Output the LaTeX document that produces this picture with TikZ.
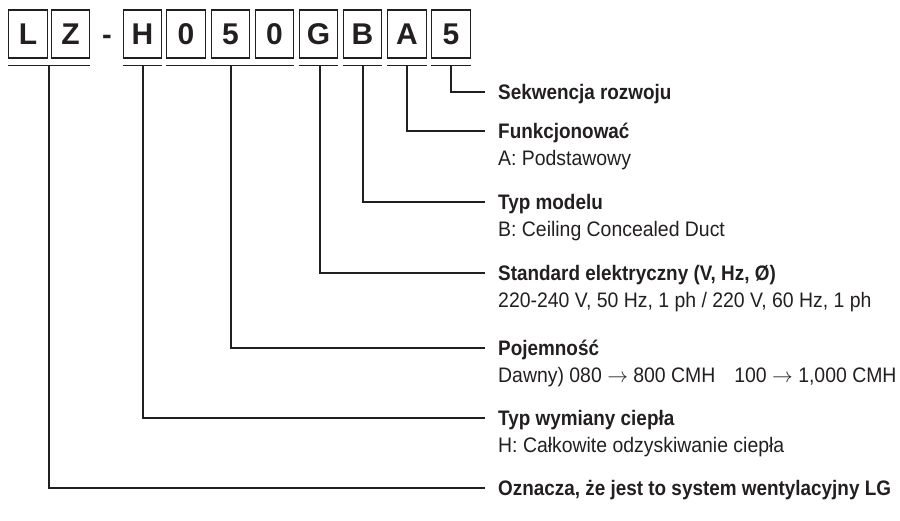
\documentclass[tikz,border=0pt]{standalone}
\usepackage{fontspec}
\setmainfont{Liberation Sans}[FakeStretch=0.925]
\newfontfamily\hdfont{Liberation Sans}[FakeStretch=0.9]
\newfontfamily\boxfont{Liberation Sans}
\definecolor{ink}{RGB}{35,31,32}
\newcommand{\rarr}{{\fontsize{21}{21}\selectfont$\rightarrow$}}
\begin{document}
\begin{tikzpicture}[x=1pt,y=-1pt,
  charbox/.style={draw=ink, line width=1.4pt, minimum width=38.5pt, minimum height=48pt, inner sep=0pt, font=\boxfont\fontsize{30}{30}\selectfont\bfseries, text=ink},
  dashmark/.style={inner sep=0pt, anchor=base, font=\boxfont\fontsize{29}{29}\selectfont\bfseries, text=ink},
  link/.style={draw=ink, line width=1.5pt},
  head/.style={anchor=base west, inner sep=0pt, font=\hdfont\fontsize{21}{25}\selectfont\bfseries, text=ink},
  sub/.style={anchor=base west, inner sep=0pt, font=\fontsize{21}{25}\selectfont, text=ink}]
\useasboundingbox (0,0) rectangle (900,520);
% character boxes
\node[charbox] (bL) at (28,34) {L};
\node[charbox] (bZ) at (70.5,34) {Z};
\node[dashmark] (dsh) at (107,44) {-};
\node[charbox] (bH) at (142.5,34) {H};
\node[charbox] (b0a) at (186,34) {0};
\node[charbox] (b5a) at (230.5,34) {5};
\node[charbox] (b0b) at (274.5,34) {0};
\node[charbox] (bG) at (318.5,34) {G};
\node[charbox] (bB) at (362.5,34) {B};
\node[charbox] (bA) at (407,34) {A};
\node[charbox] (b5b) at (451,34) {5};
% underlines
\draw[link] ([yshift=-7pt]bL.south west) -- ([yshift=-7pt]bZ.south east);
\draw[link] ([yshift=-7pt]bH.south west) -- ([yshift=-7pt]bH.south east);
\draw[link] ([yshift=-7pt]b0a.south west) -- ([yshift=-7pt]b0b.south east);
\draw[link] ([yshift=-7pt]bG.south west) -- ([yshift=-7pt]bG.south east);
\draw[link] ([yshift=-7pt]bB.south west) -- ([yshift=-7pt]bB.south east);
\draw[link] ([yshift=-7pt]bA.south west) -- ([yshift=-7pt]bA.south east);
\draw[link] ([yshift=-7pt]b5b.south west) -- ([yshift=-7pt]b5b.south east);
% start points on the underlines
\coordinate (uLZ) at (49,65);
\coordinate (uH) at (143,65);
\coordinate (uCap) at (231,65);
\coordinate (uG) at (320,65);
\coordinate (uB) at (363,65);
\coordinate (uA) at (407,65);
\coordinate (u5) at (451,65);
% end points
\coordinate (e5) at (485,92);
\coordinate (eA) at (485,131);
\coordinate (eB) at (485,202);
\coordinate (eG) at (485,273);
\coordinate (eCap) at (485,348);
\coordinate (eH) at (485,418);
\coordinate (eLZ) at (485,488);
% connectors
\draw[link] (u5) |- (e5);
\draw[link] (uA) |- (eA);
\draw[link] (uB) |- (eB);
\draw[link] (uG) |- (eG);
\draw[link] (uCap) |- (eCap);
\draw[link] (uH) |- (eH);
\draw[link] (uLZ) |- (eLZ);
% texts
\node[head] (t5) at (498,99.5) {Sekwencja rozwoju};
\node[head] (tA) at (498,138.5) {Funkcjonować};
\node[sub] (sA) at (498,165.5) {A: Podstawowy};
\node[head] (tB) at (498,209.5) {Typ modelu};
\node[sub] (sB) at (498,236.5) {B: Ceiling Concealed Duct};
\node[head] (tG) at (498,280.5) {Standard elektryczny (V, Hz, Ø)};
\node[sub] (sG) at (498,307.5) {220-240 V, 50 Hz, 1 ph / 220 V, 60 Hz, 1 ph};
\node[head] (tCap) at (498,355.5) {Pojemność};
\node[sub] (sCap) at (498,382.5) {Dawny) 080 \rarr{} 800 CMH\hspace{0.9em}100 \rarr{} 1,000 CMH};
\node[head] (tH) at (498,425.5) {Typ wymiany ciepła};
\node[sub] (sH) at (498,452.5) {H: Całkowite odzyskiwanie ciepła};
\node[head] (tLZ) at (498,495.5) {Oznacza, że jest to system wentylacyjny LG};
\end{tikzpicture}
\end{document}
